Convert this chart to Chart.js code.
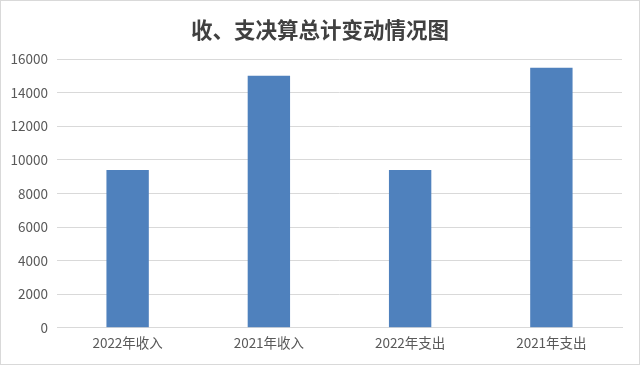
<!DOCTYPE html>
<html>
<head>
<meta charset="utf-8">
<script src="https://cdn.jsdelivr.net/npm/chart.js@4/dist/chart.umd.min.js"></script>
<style>
  html, body { margin: 0; padding: 0; background: #fff; }
  #wrap {
    width: 640px; height: 365px; box-sizing: border-box;
    border: 1px solid #d9d9d9; position: relative;
  }
  #title {
    position: absolute; left: -1px; top: 12px; width: 640px;
    text-align: center; line-height: 26px;
    font: bold 21.5px 'Noto Sans CJK SC', 'Microsoft YaHei', sans-serif;
    color: #404040;
  }
</style>
</head>
<body>
<div id="wrap">
  <div id="title">收、支决算总计变动情况图</div>
  <canvas id="chart"></canvas>
</div>
<script>
const categories = ["2022年收入", "2021年收入", "2022年支出", "2021年支出"];
const totals = [9400, 15000, 9400, 15480];
const yTicks = [0, 2000, 4000, 6000, 8000, 10000, 12000, 14000, 16000];

const font = "'Noto Sans CJK SC', 'Microsoft YaHei', sans-serif";

new Chart(document.getElementById("chart"), {
    type: "bar",
    data: {
        labels: categories,
        datasets: [
            {
                label: "总计",
                data: totals,
                backgroundColor: "#4f81bd",
                borderWidth: 0,
                categoryPercentage: 1,
                barPercentage: 0.3,
            },
        ],
    },
    options: {
        responsive: true,
        maintainAspectRatio: false,
        animation: false,
        // top padding leaves room for the HTML title above
        layout: { padding: { left: 0, right: 17, top: 58, bottom: 6 } },
        plugins: {
            legend: { display: false },
            tooltip: { enabled: false },
        },
        scales: {
            x: {
                grid: { display: false, drawTicks: false },
                border: { color: "#d9d9d9" },
                ticks: {
                    color: "#595959",
                    font: { family: font, size: 13.5 },
                    padding: 7,
                    maxRotation: 0,
                },
            },
            y: {
                min: yTicks[0],
                max: yTicks[yTicks.length - 1],
                afterBuildTicks: (axis) => {
                    axis.ticks = yTicks.map((v) => ({ value: v }));
                },
                afterFit: (axis) => {
                    axis.width = 56;
                },
                grid: { color: "#d9d9d9", drawTicks: false },
                border: { display: false },
                ticks: {
                    color: "#595959",
                    font: { family: font, size: 13.5 },
                    padding: 9,
                    callback: (v) => String(v),
                },
            },
        },
    },
});
</script>
</body>
</html>
